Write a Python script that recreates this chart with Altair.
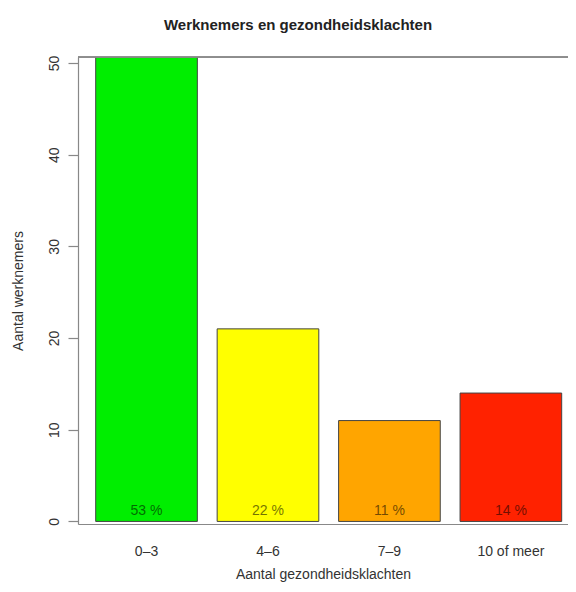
import altair as alt
import pandas as pd

categories = ["0–3", "4–6", "7–9", "10 of meer"]
counts = [51, 21, 11, 14]
colors = ["#00EE00", "#FFFF00", "#FFA500", "#FF2200"]
y_ticks = [0, 10, 20, 30, 40, 50]

total = sum(counts)
pct_labels = [f"{round(c / total * 100)} %" for c in counts]

df = pd.DataFrame({"cat": categories, "count": counts, "pct": pct_labels})

W, H = 490, 467
FONT = "Liberation Sans"

xscale = alt.Scale(domain=categories, paddingInner=0.163, paddingOuter=0.0988, align=0.7375)
yscale = alt.Scale(domain=[-0.28, 50.65], nice=False, zero=False)

x_enc = alt.X(
    "cat:N", sort=categories, scale=xscale,
    axis=alt.Axis(
        title="Aantal gezondheidsklachten", ticks=False, tickSize=0, domain=True,
        domainColor="#888888", domainWidth=1.2, labelAngle=0,
        labelBaseline="middle", labelPadding=27, labelFont=FONT, labelFontSize=14,
        labelColor="#333333", titleFont=FONT, titleFontSize=14, titleFontWeight="normal",
        titleColor="#333333", titleBaseline="middle", titleY=50,
    ),
)

y_enc = alt.Y(
    "count:Q", scale=yscale,
    axis=alt.Axis(
        title="Aantal werknemers", values=y_ticks, grid=False, tickSize=10,
        tickColor="#888888", domainColor="#888888", domainWidth=1.2, tickWidth=1.2,
        labelAngle=270, labelAlign="center", labelBaseline="alphabetic", labelPadding=10,
        labelFont=FONT, labelFontSize=14, labelColor="#333333",
        titleFont=FONT, titleFontSize=14, titleFontWeight="normal", titleColor="#333333",
        titleAngle=270, titleBaseline="middle", titleAlign="center", titleX=-60, titleY=H / 2,
    ),
)

bars = alt.Chart(df).mark_bar(stroke="#444444", strokeWidth=1, clip=True).encode(
    x=x_enc,
    y=y_enc,
    y2=alt.datum(0),
    color=alt.Color("cat:N", scale=alt.Scale(domain=categories, range=colors), legend=None),
)

texts = alt.Chart(df).mark_text(
    font=FONT, fontSize=14, baseline="middle", dy=-10, color="#000000", opacity=0.55
).encode(
    x=alt.X("cat:N", sort=categories, scale=xscale),
    y=alt.datum(0, scale=yscale),
    text="pct:N",
)

top_line = alt.Chart(df).mark_rule(color="#888888", strokeWidth=1.2).encode(
    x=alt.value(0), x2=alt.value(W), y=alt.value(0)
)

chart = alt.layer(bars, texts, top_line).properties(
    width=W,
    height=H,
    title=alt.TitleParams(
        "Werknemers en gezondheidsklachten", font=FONT, fontSize=15, fontWeight="bold",
        color="#222222", anchor="middle", frame="group", dx=-25, offset=15, baseline="middle",
    ),
    autosize=alt.AutoSizeParams(type="none"),
    padding={"left": 70, "top": 49, "right": 0, "bottom": 60},
).configure_view(strokeWidth=0).configure(background="white")

chart.save("out.html", embed_options={"renderer": "svg", "actions": False})
